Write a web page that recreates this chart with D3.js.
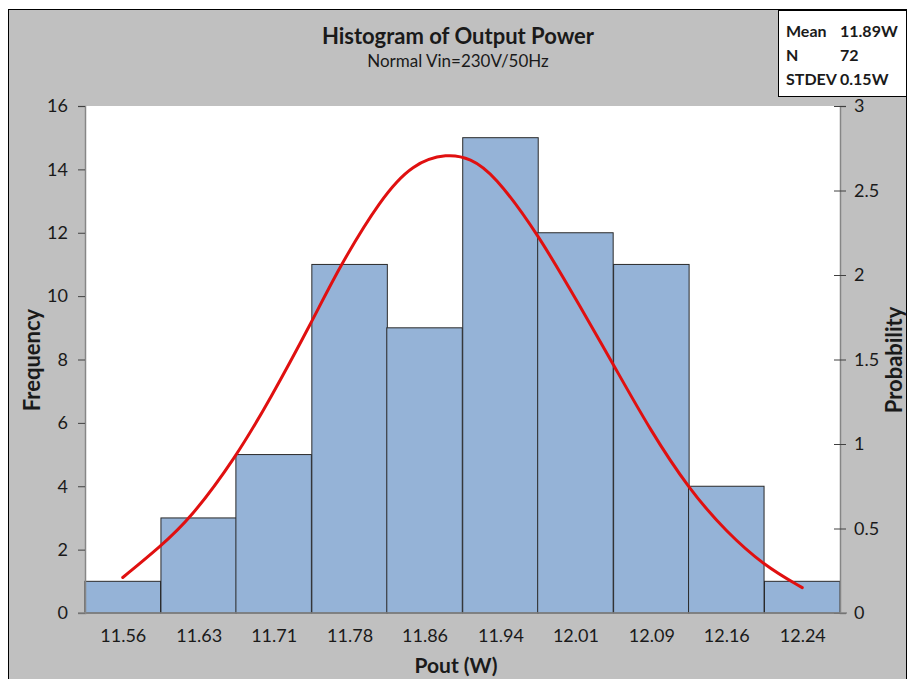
<!DOCTYPE html>
<html>
<head>
<meta charset="utf-8">
<script src="https://cdn.jsdelivr.net/npm/d3@7"></script>
<style>
  body { margin: 0; background: #fff; }
  text { font-family: Lato, "Open Sans", sans-serif; fill: #1a1a1a; }
</style>
</head>
<body>
<svg id="chart" width="910" height="679"></svg>
<script>
// bins (centre of each bar, W) and counts
const binLabels = ["11.56", "11.63", "11.71", "11.78", "11.86", "11.94", "12.01", "12.09", "12.16", "12.24"];
const binCenters = [11.560, 11.636, 11.711, 11.787, 11.862, 11.938, 12.013, 12.089, 12.164, 12.240];
const counts = [1, 3, 5, 11, 9, 15, 12, 11, 4, 1];

// fitted normal curve (W, probability density)
const curveX = [11.560, 11.597, 11.628, 11.673, 11.707, 11.749, 11.777, 11.818, 11.850, 11.885, 11.908, 11.931, 11.976, 12.018, 12.051, 12.088, 12.127, 12.164, 12.202, 12.240];
const curveY = [0.21, 0.39, 0.56, 0.92, 1.26, 1.72, 2.05, 2.45, 2.66, 2.72, 2.69, 2.60, 2.24, 1.81, 1.47, 1.08, 0.73, 0.48, 0.28, 0.15];

const freqTicks = [0, 2, 4, 6, 8, 10, 12, 14, 16];
const probTicks = [0, 0.5, 1, 1.5, 2, 2.5, 3];

const stats = [["Mean", "11.89W"], ["N", "72"], ["STDEV", "0.15W"]];

const svg = d3.select("#chart");
const margin = { top: 106, right: 70, bottom: 66, left: 85 };
const width = +svg.attr("width");
const height = +svg.attr("height");
const plotW = width - margin.left - margin.right;
const plotH = height - margin.top - margin.bottom;

// background frame
svg.append("rect")
  .attr("x", 8.5).attr("y", 9.5)
  .attr("width", 898).attr("height", 700)
  .attr("fill", "#c0c0c0").attr("stroke", "#000").attr("stroke-width", 1);

const halfBin = (binCenters[9] - binCenters[0]) / 18;
const x = d3.scaleLinear()
  .domain([binCenters[0] - halfBin, binCenters[9] + halfBin])
  .range([0, plotW]);
const y = d3.scaleLinear().domain([0, 16]).range([plotH, 0]);
const yP = d3.scaleLinear().domain([0, 3]).range([plotH, 0]);

const g = svg.append("g").attr("transform", "translate(" + margin.left + "," + margin.top + ")");

g.append("rect").attr("width", plotW).attr("height", plotH).attr("fill", "#fff");

// bars
g.selectAll("rect.bar")
  .data(counts)
  .join("rect")
  .attr("class", "bar")
  .attr("x", (d, i) => x(binCenters[i] - halfBin))
  .attr("width", (d, i) => x(binCenters[i] + halfBin) - x(binCenters[i] - halfBin))
  .attr("y", d => y(d))
  .attr("height", d => plotH - y(d))
  .attr("fill", "#95b3d7")
  .attr("stroke", "#2a2a2a")
  .attr("stroke-width", 1);

// normal curve
const line = d3.line()
  .x(d => x(d[0]))
  .y(d => yP(d[1]))
  .curve(d3.curveBasis);
g.append("path")
  .datum(curveX.map((v, i) => [v, curveY[i]]))
  .attr("d", line)
  .attr("fill", "none")
  .attr("stroke", "#e01010")
  .attr("stroke-width", 3)
  .attr("stroke-linecap", "round");

// left axis
const yAxis = g.append("g")
  .call(d3.axisLeft(y).tickValues(freqTicks).tickSize(7).tickPadding(10));
// right axis
const yAxisR = g.append("g")
  .attr("transform", "translate(" + plotW + ",0)")
  .call(d3.axisRight(yP).tickValues(probTicks).tickSize(6).tickPadding(8).tickFormat(d3.format("")));
yAxisR.selectAll(".tick line").attr("x1", -6);
// bottom axis
const xAxis = g.append("g")
  .attr("transform", "translate(0," + plotH + ")")
  .call(d3.axisBottom(x).tickValues(binCenters).tickSize(0).tickPadding(16)
    .tickFormat((d, i) => binLabels[i]));
xAxis.select(".domain").attr("d", "M-7,0H" + (plotW + 7));

[yAxis, yAxisR, xAxis].forEach(a => {
  a.selectAll(".domain").attr("stroke", "#868686").attr("stroke-width", 1.5);
  a.selectAll(".tick line").attr("stroke", "#404040");
  a.selectAll(".tick text").style("font-size", "18px").attr("fill", "#1a1a1a");
});

// titles
svg.append("text").attr("x", 458).attr("y", 44).attr("text-anchor", "middle")
  .style("font-size", "22px").style("font-weight", "bold").text("Histogram of Output Power");
svg.append("text").attr("x", 458).attr("y", 67).attr("text-anchor", "middle")
  .style("font-size", "17px").text("Normal Vin=230V/50Hz");
svg.append("text").attr("x", 456).attr("y", 673).attr("text-anchor", "middle")
  .style("font-size", "21px").style("font-weight", "bold").text("Pout (W)");
svg.append("text").attr("transform", "translate(40,360) rotate(-90)").attr("text-anchor", "middle")
  .style("font-size", "22px").style("font-weight", "bold").text("Frequency");
svg.append("text").attr("transform", "translate(902,360) rotate(-90)").attr("text-anchor", "middle")
  .style("font-size", "22px").style("font-weight", "bold").text("Probability");

// stats box
const box = svg.append("g");
box.append("rect").attr("x", 778.5).attr("y", 10.5).attr("width", 128).attr("height", 86)
  .attr("fill", "#fff").attr("stroke", "#000").attr("stroke-width", 1);
box.selectAll("text.k").data(stats).join("text")
  .attr("x", 786).attr("y", (d, i) => 37 + i * 24)
  .style("font-size", "16px").style("font-weight", "bold").text(d => d[0]);
box.selectAll("text.v").data(stats).join("text")
  .attr("x", 840).attr("y", (d, i) => 37 + i * 24)
  .style("font-size", "16px").style("font-weight", "bold").text(d => d[1]);
</script>
</body>
</html>
